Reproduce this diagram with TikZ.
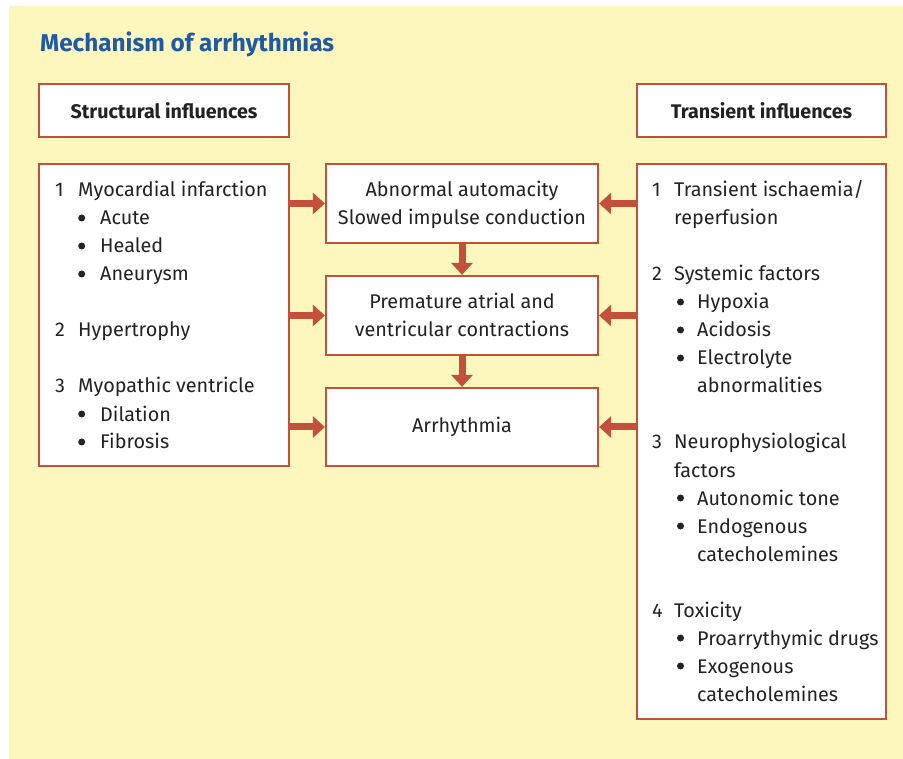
\documentclass[tikz,border=0pt]{standalone}
\usepackage{fontspec}
\setmainfont{Fira Sans}
\usetikzlibrary{arrows.meta}
\definecolor{paper}{HTML}{FDF7BE}
\definecolor{frame}{HTML}{C2503A}
\definecolor{titleblue}{HTML}{1F5AA6}
\definecolor{ink}{HTML}{222222}
\tikzset{
  panel/.style={draw=frame, line width=2.2pt, fill=white, inner sep=0pt},
  head/.style={panel, line width=2.6pt, font=\fontsize{19.7}{22}\selectfont\bfseries, text=ink},
  txt/.style={anchor=base west, inner sep=0pt, text=ink, font=\fontsize{19.8}{22}\selectfont},
  ctxt/.style={txt, anchor=base},
  dot/.style={circle, fill=ink, inner sep=0pt, minimum size=7pt},
  arr/.style={draw=frame, line width=7pt, -{Triangle[width=21pt,length=12pt]}, shorten >=0pt}
}
\begin{document}
\begin{tikzpicture}[x=1pt,y=-1pt]
  \useasboundingbox (0,0) rectangle (903,759);
  \fill[paper] (9,6) rectangle (903,759);

  % title
  \node[anchor=base west, inner sep=0pt, text=titleblue, font=\fontsize{24.3}{28}\selectfont\bfseries] (title) at (40,52) {Mechanism of arrhythmias};

  % headers
  \node[head, minimum width=250pt, minimum height=53pt] (hs) at (164,110.5) {Structural influences};
  \node[head, minimum width=249pt, minimum height=53pt] (ht) at (761.5,110.5) {Transient influences};

  % side panels
  \node[panel, minimum width=250pt, minimum height=302pt] (L) at (164,315) {};
  \node[panel, minimum width=249pt, minimum height=555pt] (R) at (761.5,441.5) {};

  % central chain
  \node[panel, minimum width=272pt, minimum height=79pt] (c1) at (462,203.5) {};
  \node[panel, minimum width=272pt, minimum height=79pt] (c2) at (462,315.5) {};
  \node[panel, minimum width=272pt, minimum height=78pt] (c3) at (462,427) {};

  \node[ctxt] (c1a) at (462,197) {Abnormal automacity};
  \node[ctxt] (c1b) at (462,225) {Slowed impulse conduction};
  \node[ctxt] (c2a) at (462,309) {Premature atrial and};
  \node[ctxt] (c2b) at (462,337) {ventricular contractions};
  \node[ctxt] (c3a) at (462,433) {Arrhythmia};

  % structural list
  \node[txt] (n1) at (55,197) {1};
  \node[txt] (s1) at (78,197) {Myocardial infarction};
  \node[dot] (b1) at (81.7,218) {};
  \node[txt] (s1a) at (100,225) {Acute};
  \node[dot] (b2) at (81.7,246) {};
  \node[txt] (s1b) at (100,253) {Healed};
  \node[dot] (b3) at (81.7,274) {};
  \node[txt] (s1c) at (100,281) {Aneurysm};
  \node[txt] (n2) at (55,337) {2};
  \node[txt] (s2) at (78,337) {Hypertrophy};
  \node[txt] (n3) at (55,393) {3};
  \node[txt] (s3) at (78,393) {Myopathic ventricle};
  \node[dot] (b4) at (81.7,414) {};
  \node[txt] (s3a) at (100,421) {Dilation};
  \node[dot] (b5) at (81.7,442) {};
  \node[txt] (s3b) at (100,449) {Fibrosis};

  % transient list
  \node[txt] (m1) at (652,197) {1};
  \node[txt] (t1) at (674,197) {Transient ischaemia/};
  \node[txt] (t1x) at (674,225) {reperfusion};
  \node[txt] (m2) at (652,281) {2};
  \node[txt] (t2) at (674,281) {Systemic factors};
  \node[dot] (d1) at (680.5,302) {};
  \node[txt] (t2a) at (697,309) {Hypoxia};
  \node[dot] (d2) at (680.5,330) {};
  \node[txt] (t2b) at (697,337) {Acidosis};
  \node[dot] (d3) at (680.5,358) {};
  \node[txt] (t2c) at (697,365) {Electrolyte};
  \node[txt] (t2cx) at (697,393) {abnormalities};
  \node[txt] (m3) at (652,449) {3};
  \node[txt] (t3) at (674,449) {Neurophysiological};
  \node[txt] (t3x) at (674,477) {factors};
  \node[dot] (d4) at (680.5,498) {};
  \node[txt] (t3a) at (697,505) {Autonomic tone};
  \node[dot] (d5) at (680.5,526) {};
  \node[txt] (t3b) at (697,533) {Endogenous};
  \node[txt] (t3bx) at (697,561) {catecholemines};
  \node[txt] (m4) at (652,617) {4};
  \node[txt] (t4) at (674,617) {Toxicity};
  \node[dot] (d6) at (680.5,638) {};
  \node[txt] (t4a) at (697,645) {Proarrythymic drugs};
  \node[dot] (d7) at (680.5,666) {};
  \node[txt] (t4b) at (697,673) {Exogenous};
  \node[txt] (t4bx) at (697,701) {catecholemines};

  % connectors
  \draw[arr] (L.east |- c1.west) -- (c1.west);
  \draw[arr] (L.east |- c2.west) -- (c2.west);
  \draw[arr] (L.east |- c3.west) -- (c3.west);
  \draw[arr] (R.west |- c1.east) -- (c1.east);
  \draw[arr] (R.west |- c2.east) -- (c2.east);
  \draw[arr] (R.west |- c3.east) -- (c3.east);
  \draw[arr] (c1.south) -- (c2.north);
  \draw[arr] (c2.south) -- (c3.north);
\end{tikzpicture}
\end{document}
